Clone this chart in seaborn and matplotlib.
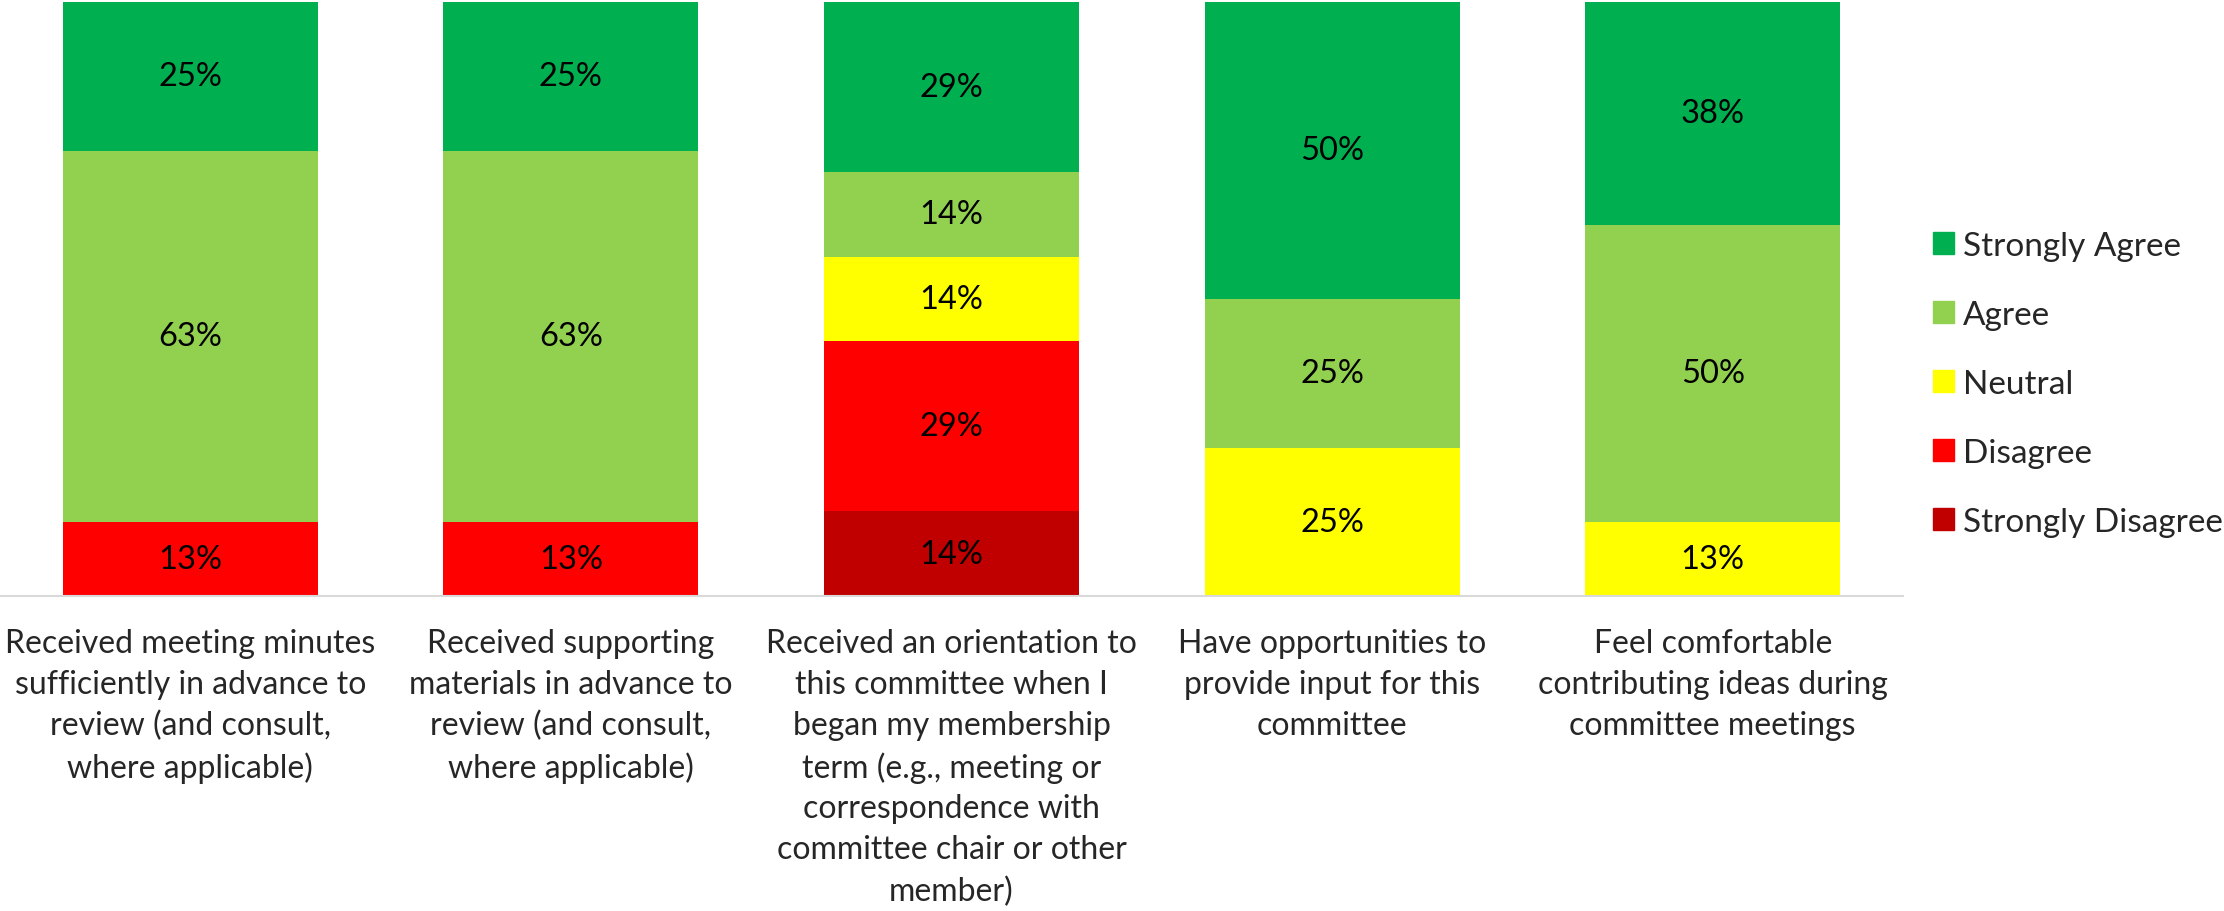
import numpy as np
import pandas as pd
import matplotlib
matplotlib.use("Agg")
import matplotlib.pyplot as plt
import matplotlib.patches as mpatches
import seaborn as sns
from decimal import Decimal, ROUND_HALF_UP

categories = [
    "Received meeting minutes\nsufficiently in advance to\nreview (and consult,\nwhere applicable)",
    "Received supporting\nmaterials in advance to\nreview (and consult,\nwhere applicable)",
    "Received an orientation to\nthis committee when I\nbegan my membership\nterm (e.g., meeting or\ncorrespondence with\ncommittee chair or other\nmember)",
    "Have opportunities to\nprovide input for this\ncommittee",
    "Feel comfortable\ncontributing ideas during\ncommittee meetings",
]
series = ["Strongly Disagree", "Disagree", "Neutral", "Agree", "Strongly Agree"]
strongly_disagree = [0.0, 0.0, 1/7, 0.0, 0.0]
disagree = [0.125, 0.125, 2/7, 0.0, 0.0]
neutral = [0.0, 0.0, 1/7, 0.25, 0.125]
agree = [0.625, 0.625, 1/7, 0.25, 0.5]
strongly_agree = [0.25, 0.25, 2/7, 0.5, 0.375]
colors = {"Strongly Agree": "#00B050", "Agree": "#92D050", "Neutral": "#FFFF00",
          "Disagree": "#FF0000", "Strongly Disagree": "#C00000"}

values = {"Strongly Disagree": strongly_disagree, "Disagree": disagree,
          "Neutral": neutral, "Agree": agree, "Strongly Agree": strongly_agree}

sns.set_theme(style="white")
plt.rcParams["font.family"] = ["Lato", "DejaVu Sans"]
FS_CAT = 23
FS_LAB = 23.5
FS_LEG = 24

fig = plt.figure(figsize=(22.24, 9.12), dpi=100)
ax = fig.add_axes([0.0, 1 - 597/912, 1903/2224, (597 - 3)/912])

def pct(v):
    return str(Decimal(str(v * 100)).quantize(Decimal("1"), rounding=ROUND_HALF_UP)) + "%"

bottom = np.zeros(len(categories))
for s in series:
    vals = np.array(values[s])
    df = pd.DataFrame({"cat": categories, "val": vals})
    sns.barplot(data=df, x="cat", y="val", color=colors[s], width=0.67,
                bottom=bottom, ax=ax, saturation=1, linewidth=0, errorbar=None)
    cont = ax.containers[-1]
    labels = [pct(v) if v > 0 else "" for v in vals]
    ax.bar_label(cont, labels=labels, label_type="center", fontsize=FS_LAB, color="black")
    bottom = bottom + vals

ax.set_xlim(-0.5, len(categories) - 0.5)
ax.set_ylim(0, 1)
ax.set_xlabel("")
ax.set_ylabel("")
ax.set_yticks([])
for sp in ["top", "right", "left"]:
    ax.spines[sp].set_visible(False)
ax.spines["bottom"].set_color("#D9D9D9")
ax.spines["bottom"].set_linewidth(1.5)
ax.tick_params(axis="x", length=0, pad=23, labelsize=FS_CAT)
for t in ax.get_xticklabels():
    t.set_linespacing(1.45)
    t.set_verticalalignment("top")

handles = [mpatches.Patch(color=colors[s], label=s) for s in reversed(series)]
fig.legend(handles=handles, loc="center left", bbox_to_anchor=(1933/2224, 1 - 385/912),
           frameon=False, fontsize=FS_LEG, handlelength=0.63, handleheight=0.63,
           handletextpad=0.27, labelspacing=1.17, borderpad=0, borderaxespad=0)

fig.savefig("out.png", dpi=100)
